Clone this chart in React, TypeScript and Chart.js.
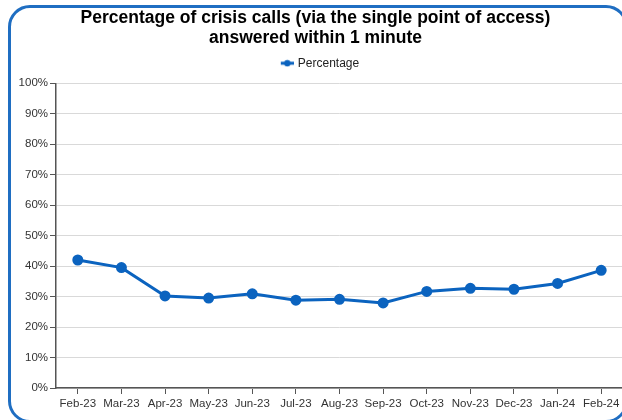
import React, { useEffect, useRef } from "react";
import { Chart, registerables } from "chart.js";

Chart.register(...registerables);

const titleLines = [
  "Percentage of crisis calls (via the single point of access)",
  "answered within 1 minute",
];
const seriesName = "Percentage";
const months = [
  "Feb-23", "Mar-23", "Apr-23", "May-23", "Jun-23", "Jul-23", "Aug-23",
  "Sep-23", "Oct-23", "Nov-23", "Dec-23", "Jan-24", "Feb-24",
];
const percentages = [42.0, 39.5, 30.2, 29.5, 30.9, 28.8, 29.1, 27.9, 31.7, 32.7, 32.4, 34.3, 38.6];

const BLUE = "#0b63bf";
const FONT = "'Liberation Sans', Arial, sans-serif";

function makeLegendIcon() {
  const c = document.createElement("canvas");
  c.width = 24;
  c.height = 8;
  const ctx = c.getContext("2d")!;
  ctx.strokeStyle = BLUE;
  ctx.lineWidth = 3;
  ctx.beginPath();
  ctx.moveTo(11, 4);
  ctx.lineTo(24, 4);
  ctx.stroke();
  ctx.fillStyle = BLUE;
  ctx.beginPath();
  ctx.arc(17.5, 4, 3.2, 0, Math.PI * 2);
  ctx.fill();
  return c;
}

export default function App() {
  const ref = useRef<HTMLCanvasElement>(null);
  useEffect(() => {
    const chart = new Chart(ref.current!, {
      type: "line",
      data: {
        labels: months,
        datasets: [
          {
            label: seriesName,
            data: percentages,
            borderColor: BLUE,
            backgroundColor: BLUE,
            borderWidth: 3,
            pointRadius: 4,
            pointBackgroundColor: BLUE,
            pointBorderColor: BLUE,
            tension: 0,
          },
        ],
      },
      options: {
        responsive: false,
        animation: false,
        layout: { padding: { top: 0, right: 6, bottom: 0, left: 7 } },
        plugins: {
          title: {
            display: true,
            text: titleLines,
            color: "#000",
            font: { family: FONT, size: 17.5, weight: "bold", lineHeight: 1.15 },
            padding: { top: 8, bottom: 2 },
          },
          subtitle: {
            display: true,
            text: "",
            weight: 500,
            font: { size: 1, lineHeight: 1 },
            padding: { top: 0, bottom: 3 },
          } as any,
          legend: {
            display: true,
            labels: {
              usePointStyle: true,
              pointStyle: makeLegendIcon() as any,
              pointStyleWidth: 20,
              color: "#222",
              font: { family: FONT, size: 12 },
              padding: 7,
            },
          },
          tooltip: { enabled: false },
        },
        scales: {
          x: {
            offset: true,
            grid: {
              offset: false,
              drawOnChartArea: false,
              drawTicks: true,
              tickLength: 6,
              tickColor: "#555",
            },
            border: { display: true, color: "#555", width: 1.5 },
            ticks: {
              color: "#333",
              font: { family: FONT, size: 11.5 },
              maxRotation: 0,
              autoSkip: false,
              padding: 3,
            },
            afterFit: (s: any) => {
              s.height = 32;
            },
          },
          y: {
            min: 0,
            max: 100,
            grid: {
              color: "#d9d9d9",
              lineWidth: 1,
              drawTicks: true,
              tickLength: 6,
              tickColor: "#555",
            },
            border: { display: true, color: "#555", width: 1.5 },
            ticks: {
              stepSize: 10,
              color: "#333",
              font: { family: FONT, size: 11.5 },
              padding: 2,
              callback: (v: any) => v + "%",
            },
            afterFit: (s: any) => {
              s.width = 49;
            },
          },
        },
      },
    });
    return () => chart.destroy();
  }, []);

  return (
    <div>
      <div style={{ position: "fixed", left: 0, top: 0, width: 630, height: 420, background: "#fff" }}>
        <canvas ref={ref} width={630} height={420} style={{ display: "block" }} />
      </div>
      <div
        style={{
          position: "fixed",
          left: 8,
          top: 5,
          width: 620,
          height: 418,
          boxSizing: "border-box",
          border: "3px solid #1f6ec2",
          borderRadius: 22,
          pointerEvents: "none",
        }}
      />
    </div>
  );
}
